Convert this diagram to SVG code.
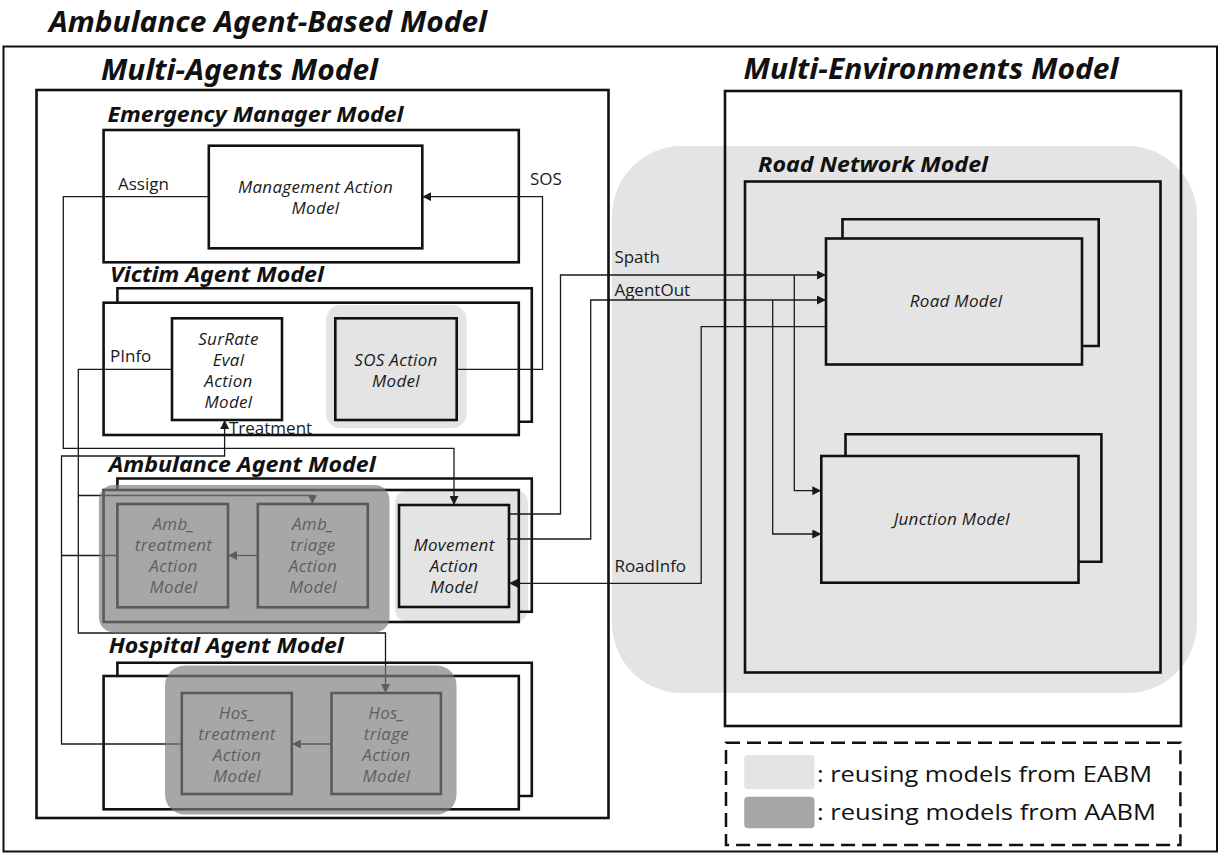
<svg xmlns="http://www.w3.org/2000/svg" width="1225" height="855" viewBox="0 0 1225 855">
<defs>
<style>
.frame{fill:none;stroke:#111;stroke-width:2.6}
.outer{fill:none;stroke:#111;stroke-width:2}
.box{fill:#fff;stroke:#111;stroke-width:2.6}
.gbox{fill:#e4e4e4;stroke:#111;stroke-width:2.6}
.lbg{fill:#e4e4e4}
.dbg{fill:#7d7d7d;fill-opacity:0.68}
.conn{fill:none;stroke:#1a1a1a;stroke-width:1.3}
.arr{fill:none;stroke:#1a1a1a;stroke-width:1.3;marker-end:url(#ah)}
.h{font-family:"Noto Sans","Open Sans","Liberation Sans",sans-serif;font-weight:bold;font-style:italic;fill:#111}
.h1{font-size:28px}
.h2{font-size:21px}
.lbl{font-family:"Open Sans","Noto Sans","Liberation Sans",sans-serif;font-style:italic;font-size:17px;letter-spacing:0.3px;text-anchor:middle;fill:#1a1a1a}
.cl{font-family:"Open Sans","Noto Sans","Liberation Sans",sans-serif;font-size:17px;fill:#1a1a1a}
.lg{font-family:"Open Sans","Noto Sans","Liberation Sans",sans-serif;font-size:22px;fill:#111}
</style>
<marker id="ah" viewBox="0 0 10 10" refX="10" refY="5" markerWidth="9" markerHeight="9" markerUnits="userSpaceOnUse" orient="auto">
<path d="M0,0 L10,5 L0,10 Z" fill="#1a1a1a"/>
</marker>
</defs>
<rect width="1225" height="855" fill="#fff"/>

<!-- backgrounds -->
<rect class="lbg" x="612" y="146" width="585" height="547" rx="70"/>
<rect class="lbg" x="326" y="305" width="140.6" height="123.3" rx="15"/>
<rect class="lbg" x="395" y="490.5" width="133" height="131" rx="12"/>

<!-- titles and frames -->
<text class="h h1" x="49" y="31.7" textLength="438" lengthAdjust="spacingAndGlyphs">Ambulance Agent-Based Model</text>
<rect class="outer" x="3.5" y="46.5" width="1213.5" height="805"/>

<g id="multi-agents-model">
<text class="h h1" x="101" y="80" textLength="277" lengthAdjust="spacingAndGlyphs">Multi-Agents Model</text>
<rect class="frame" x="36.5" y="90" width="572" height="728"/>
</g>

<g id="multi-environments-model">
<text class="h h1" x="743.5" y="78.5" textLength="375" lengthAdjust="spacingAndGlyphs">Multi-Environments Model</text>
<rect class="frame" x="725" y="91" width="456" height="635"/>
</g>

<g id="road-network-model">
<text class="h h2" x="758" y="171.7" textLength="230" lengthAdjust="spacingAndGlyphs">Road Network Model</text>
<rect class="frame" x="745" y="181.5" width="415.5" height="491"/>
</g>

<g id="road-model">
<path class="frame" d="M842.5,238.5 V219.3 H1098.7 V346 H1082"/>
<rect class="gbox" x="826" y="238.5" width="256" height="126"/>
<text class="lbl" x="956" y="307">Road Model</text>
</g>

<g id="junction-model">
<path class="frame" d="M845.5,456 V434.3 H1101.4 V561.7 H1078.5"/>
<rect class="gbox" x="821.3" y="456" width="257.2" height="126.7"/>
<text class="lbl" x="951.7" y="525">Junction Model</text>
</g>

<g id="emergency-manager-model">
<text class="h h2" x="107.5" y="121.7" textLength="296" lengthAdjust="spacingAndGlyphs">Emergency Manager Model</text>
<rect class="frame" x="103.6" y="130" width="415.2" height="132.3"/>
</g>
<g id="management-action-model">
<rect class="box" x="208.8" y="145.7" width="213.5" height="102.6"/>
<text class="lbl" x="315.5" y="193">Management Action</text>
<text class="lbl" x="315.5" y="214">Model</text>
</g>

<g id="victim-agent-model">
<text class="h h2" x="110" y="281.7" textLength="214" lengthAdjust="spacingAndGlyphs">Victim Agent Model</text>
<path class="frame" d="M117.4,302.7 V288.3 H531.8 V421.7 H518.8"/>
<rect class="frame" x="103.6" y="302.7" width="415.2" height="132.3"/>
</g>
<g id="surrate-eval-action-model">
<rect class="box" x="172" y="318.3" width="110" height="101.7"/>
<text class="lbl" x="228.5" y="345">SurRate</text>
<text class="lbl" x="228.5" y="366">Eval</text>
<text class="lbl" x="228.5" y="387">Action</text>
<text class="lbl" x="228.5" y="408">Model</text>
</g>
<g id="sos-action-model">
<rect class="gbox" x="335.3" y="318.3" width="121.4" height="101.7"/>
<text class="lbl" x="396" y="366">SOS Action</text>
<text class="lbl" x="396" y="387">Model</text>
</g>

<g id="ambulance-agent-model">
<text class="h h2" x="108.7" y="471.7" textLength="267" lengthAdjust="spacingAndGlyphs">Ambulance Agent Model</text>
<path class="frame" d="M117.4,490 V478.5 H531.8 V611.7 H518.8"/>
<rect class="frame" x="103.6" y="490" width="415.2" height="132"/>
</g>
<g id="amb-treatment-action-model">
<rect class="box" x="117.4" y="504" width="110.6" height="103.3"/>
<text class="lbl" x="173.5" y="530">Amb_</text>
<text class="lbl" x="173.5" y="551">treatment</text>
<text class="lbl" x="173.5" y="572">Action</text>
<text class="lbl" x="173.5" y="593">Model</text>
</g>
<g id="amb-triage-action-model">
<rect class="box" x="257.8" y="504" width="110" height="103.3"/>
<text class="lbl" x="313" y="530">Amb_</text>
<text class="lbl" x="313" y="551">triage</text>
<text class="lbl" x="313" y="572">Action</text>
<text class="lbl" x="313" y="593">Model</text>
</g>
<g id="movement-action-model">
<rect class="gbox" x="399" y="505" width="110" height="102"/>
<text class="lbl" x="454" y="551">Movement</text>
<text class="lbl" x="454" y="572">Action</text>
<text class="lbl" x="454" y="593">Model</text>
</g>

<g id="hospital-agent-model">
<text class="h h2" x="108.7" y="653.3" textLength="235" lengthAdjust="spacingAndGlyphs">Hospital Agent Model</text>
<path class="frame" d="M117.4,676 V662.7 H531.8 V796 H518.8"/>
<rect class="frame" x="103.6" y="676" width="415.2" height="133.3"/>
</g>
<g id="hos-treatment-action-model">
<rect class="box" x="181.8" y="693" width="110" height="101"/>
<text class="lbl" x="237" y="719">Hos_</text>
<text class="lbl" x="237" y="740">treatment</text>
<text class="lbl" x="237" y="761">Action</text>
<text class="lbl" x="237" y="782">Model</text>
</g>
<g id="hos-triage-action-model">
<rect class="box" x="331.5" y="693" width="109.4" height="101"/>
<text class="lbl" x="386.5" y="719">Hos_</text>
<text class="lbl" x="386.5" y="740">triage</text>
<text class="lbl" x="386.5" y="761">Action</text>
<text class="lbl" x="386.5" y="782">Model</text>
</g>

<g id="connectors">
<path class="arr" d="M456.7,369.3 H542.5 V196.7 H422.3"/>
<path class="arr" d="M208.8,196.7 H63.3 V448.3 H454 V505"/>
<path class="arr" d="M172,369.3 H78.3 V633 H385.5 V693"/>
<path class="arr" d="M78.3,495.5 H312.4 V504"/>
<path class="arr" d="M181.8,744 H61.5 V456 H224.6 V420"/>
<path class="conn" d="M117.4,555.5 H61.5"/>
<path class="arr" d="M257.8,555.5 H228"/>
<path class="arr" d="M331.5,744 H291.8"/>
<path class="arr" d="M509,514 H560.5 V275 H826"/>
<path class="arr" d="M794.3,275 V490.7 H821.3"/>
<path class="arr" d="M507,539 H590.7 V300 H826"/>
<path class="arr" d="M772.7,300 V534 H821.3"/>
<path class="arr" d="M826,326.7 H701.2 V583.3 H509"/>
<text class="cl" x="118" y="190">Assign</text>
<text class="cl" x="530" y="185">SOS</text>
<text class="cl" x="110" y="362">PInfo</text>
<text class="cl" x="229" y="434">Treatment</text>
<text class="cl" x="614.4" y="263">Spath</text>
<text class="cl" x="614.4" y="296">AgentOut</text>
<text class="cl" x="614.4" y="572">RoadInfo</text>
</g>

<g id="reuse-aabm-highlight">
<rect class="dbg" x="98.9" y="485" width="290.6" height="147.5" rx="15"/>
<rect class="dbg" x="165" y="665.5" width="291.5" height="149" rx="20"/>
</g>

<g id="legend">
<rect x="726" y="742.7" width="454.4" height="102.3" fill="none" stroke="#111" stroke-width="2.5" stroke-dasharray="14 7"/>
<rect x="744.2" y="755" width="70.3" height="34.3" rx="4" fill="#e4e4e4"/>
<rect x="744.2" y="796.7" width="70.3" height="31.6" rx="4" fill="#a6a6a6"/>
<text class="lg" x="817" y="782" textLength="335" lengthAdjust="spacingAndGlyphs">: reusing models from EABM</text>
<text class="lg" x="817" y="820" textLength="339" lengthAdjust="spacingAndGlyphs">: reusing models from AABM</text>
</g>
</svg>
